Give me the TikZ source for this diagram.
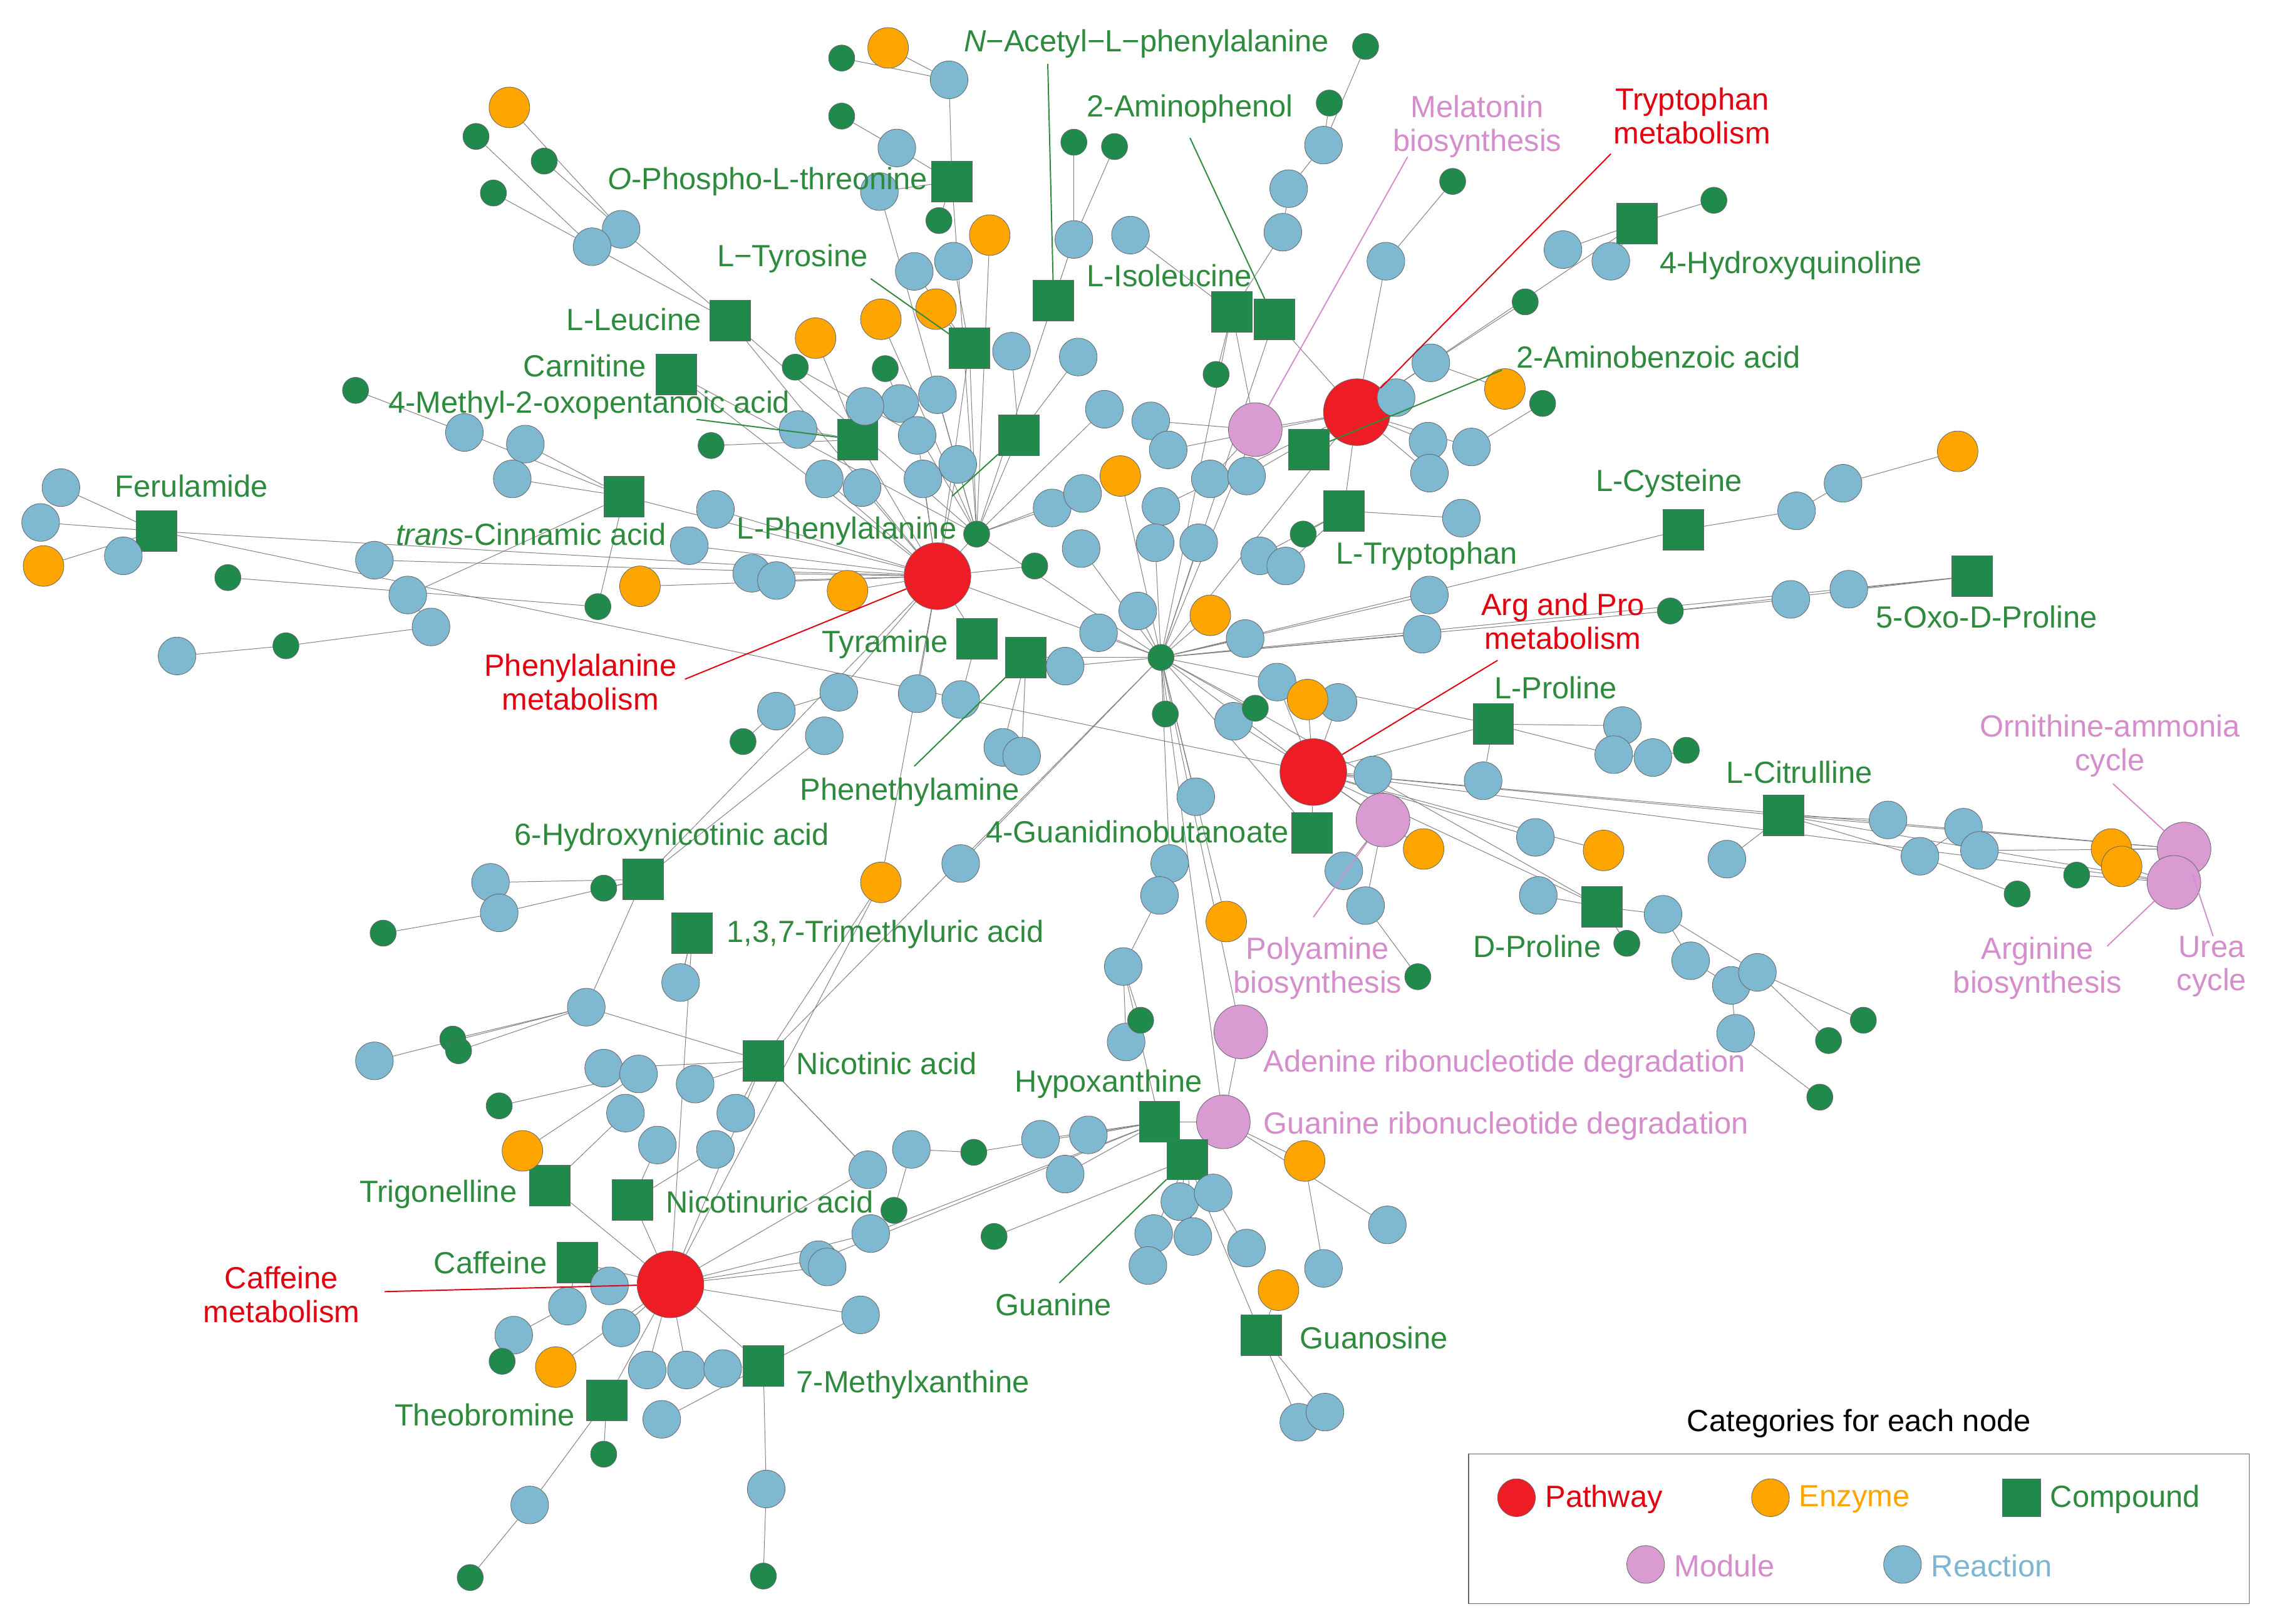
\documentclass[tikz,border=0pt]{standalone}
\usepackage{fontspec}
\setmainfont{Liberation Sans}
\usetikzlibrary{backgrounds}
\definecolor{cRed}{HTML}{EE1C25}
\definecolor{cOr}{HTML}{FFA500}
\definecolor{cGr}{HTML}{1F8A4C}
\definecolor{cPk}{HTML}{DA9BD2}
\definecolor{cBl}{HTML}{7FB8D1}
\definecolor{tGr}{HTML}{2E8B3E}
\definecolor{tPk}{HTML}{D68DCC}
\definecolor{tRd}{HTML}{E3000F}
\definecolor{tBl}{HTML}{7FB5D0}
\tikzset{
 base/.style={draw=black!60,line width=0.5pt,inner sep=0pt},
 rx/.style={base,circle,fill=cBl,minimum size=1.3cm},
 en/.style={base,circle,fill=cOr,minimum size=1.4cm},
 sg/.style={base,circle,fill=cGr,minimum size=0.9cm},
 cp/.style={base,rectangle,fill=cGr,minimum size=1.4cm},
 pw/.style={base,circle,fill=cRed,minimum size=2.3cm},
 md/.style={base,circle,fill=cPk,minimum size=1.85cm},
 edge/.style={draw=black!50,line width=0.6pt},
 lab/.style={font=\fontsize{30}{33}\selectfont,inner sep=1pt,align=center},
 gl/.style={lab,text=tGr},
 pl/.style={lab,text=tPk},
 rl/.style={lab,text=tRd},
 gline/.style={draw=tGr,line width=1.2pt},
 pline/.style={draw=tPk,line width=1.2pt},
 rline/.style={draw=tRd,line width=1.2pt},
}
\begin{document}
\begin{tikzpicture}[x=0.05cm,y=-0.05cm]
\useasboundingbox (0,0) rectangle (1567,1119);
% pathways / modules / hubs
\node[pw] (P1) at (646,397) {};
\node[pw] (P2) at (935,284) {};
\node[pw] (P3) at (905,532) {};
\node[pw] (P4) at (462,885) {};
\node[md] (M1) at (865,296) {};
\node[md] (M2) at (953,565) {};
\node[md] (M3) at (855,711) {};
\node[md] (M4) at (843,773) {};
\node[md] (M5) at (1505,585) {};
\node[md] (M6) at (1498,608) {};
\node[sg] (H1) at (673,368) {};
\node[sg] (H2) at (800,453) {};
% compounds
\node[cp] (CNAc) at (726,207) {};
\node[cp] (COPT) at (656,125) {};
\node[cp] (CTyr) at (668,240) {};
\node[cp] (CIle) at (849,215) {};
\node[cp] (C2AP) at (878,220) {};
\node[cp] (CLeu) at (503,221) {};
\node[cp] (CCar) at (466,258) {};
\node[cp] (CMOP) at (591,303) {};
\node[cp] (CLPhe) at (702,300) {};
\node[cp] (CFer) at (108,366) {};
\node[cp] (Ctcin) at (430,342) {};
\node[cp] (C2AB) at (902,310) {};
\node[cp] (CTrp) at (926,352) {};
\node[cp] (C4HQ) at (1128,154) {};
\node[cp] (CCys) at (1160,365) {};
\node[cp] (C5OP) at (1359,397) {};
\node[cp] (CTyra) at (673,440) {};
\node[cp] (CPhe) at (707,453) {};
\node[cp] (CLPro) at (1029,499) {};
\node[cp] (CCit) at (1229,562) {};
\node[cp] (CGB) at (904,574) {};
\node[cp] (CDPro) at (1104,625) {};
\node[cp] (C6HN) at (443,606) {};
\node[cp] (C137) at (477,643) {};
\node[cp] (CNic) at (526,731) {};
\node[cp] (CHyp) at (799,773) {};
\node[cp] (CGua) at (818,799) {};
\node[cp] (CTri) at (379,817) {};
\node[cp] (CNtu) at (436,827) {};
\node[cp] (CCaf) at (398,870) {};
\node[cp] (C7MX) at (526,941) {};
\node[cp] (CTheo) at (418,965) {};
\node[cp] (CGuo) at (869,920) {};

\def\Rlist{a4/428/158/CLeu,a5/408/170/CLeu,t4/654/55/COPT,t5/618/102/COPT,t6/606/132/H1,t9/657/180/CTyr,t10/630/187/CTyr,
t16/620/278/H1,t17/646/272/H1,t18/596/280/CMOP,t19/550/296/CMOP,t20/568/330/P1,t21/594/336/P1,t22/632/300/P1,t23/660/320/P1,t24/636/330/P1,
t25/697/242/CLPhe,t26/743/246/CLPhe,t27/761/282/H1,t28/740/165/CNAc,t29/779/162/CIle,
u3/912/100/u5,u5/888/130/u6,u6/884/160/CIle,u7/955/180/P2,u10/793/290/M1,u11/805/310/P2,u12/834/330/M1,u13/725/350/H1,u14/746/340/H1,
u16/800/349/P2,u17/859/328/P2,u18/868/383/CTrp,u19/886/390/CTrp,u20/745/378/H2,u21/796/374/H2,u22/826/374/H2,
u25/986/250/P2,u26/962/274/P2,u27/984/304/P2,u28/1014/308/P2,u29/985/326/P2,u30/1007/357/CTrp,u34/1077/172/C4HQ,u35/1110/180/C4HQ,
l1/493/351/P1,l2/475/376/P1,l3/518/395/P1,l4/535/400/P1,l8/578/477/P1,l9/535/490/l8,l11/568/507/C6HN,l12/632/478/P1,l13/662/482/CTyra,
l14/691/515/CPhe,l15/704/521/CPhe,l16/734/459/H2,l17/757/436/H2,l18/784/421/H2,l20/858/440/H2,l21/880/470/P3,l22/985/410/H2,l23/980/437/H2,
l25/1234/413/l24,l26/1274/406/C5OP,l27/1238/352/CCys,l28/1270/333/l27,
v3/922/484/P3,v4/850/497/P3,v6/946/534/P3,v7/1022/538/CLPro,v8/1058/577/P3,v10/1118/500/CLPro,v11/1112/520/CLPro,v12/1139/522/v11,
v14/1190/592/CCit,v15/1301/565/CCit,v16/1323/590/CCit,v17/1353/570/v16,v18/1364/586/M5,v24/1060/617/CDPro,v25/1146/630/CDPro,
v26/1165/662/v25,v27/1193/679/v26,v28/1211/670/v25,v29/1196/712/v27,v33/926/600/M2,v34/941/624/M2,
w1/824/549/H2,w2/806/595/H2,w3/799/617/w2,w5/774/666/w3,w6/776/718/w5,w9/662/595/H2,
x1/338/608/C6HN,x2/344/629/C6HN,x5/404/694/CNic,x6/469/677/C137,x7/258/731/x5,x11/416/736/CNic,x12/440/740/x16,x13/479/747/CNic,
x14/507/767/CNic,x15/431/767/CTri,x17/453/789/CNtu,x18/493/792/CNtu,x19/598/806/CNic,x20/628/792/x21,x22/600/850/P4,
x24/717/785/CHyp,x25/750/782/CHyp,x26/734/809/CHyp,x27/813/828/CGua,x28/836/822/CGua,x29/822/852/CGua,x30/859/860/x28,
x31/795/850/CGua,x32/791/872/x31,x34/912/874/x35,x37/956/844/M4,
y1/564/868/P4,y2/570/873/P4,y3/593/906/P4,y4/420/886/P4,y5/391/900/CCaf,y6/428/915/P4,y7/354/920/y5,y10/446/944/P4,
y11/473/944/P4,y12/498/943/C7MX,y13/456/978/C7MX,y15/365/1037/CTheo,y17/528/1026/C7MX,y19/895/980/CGuo,y20/913/973/CGuo,
z1/258/386/P1,z2/281/410/Ctcin,z3/297/432/z2,z6/122/452/z5,z7/85/383/CFer,z9/28/360/CFer,z10/42/336/CFer,
z11/320/298/Ctcin,z12/362/306/Ctcin,z13/353/330/Ctcin}
\def\Elist{a1/351/74/a4,t2/612/33/t4,t8/682/162/H1,t11/645/213/CTyr,t12/607/220/H1,t13/562/233/CMOP,u15/772/328/H2,u31/1037/268/u25,
l5/441/404/P1,l7/584/407/P1,l19/834/424/H2,l29/1349/311/l28,v2/901/482/P3,v9/1105/586/P3,v21/1455/585/M5,v22/1462/597/M6,
v23/981/585/P3,w4/845/635/H2,w8/607/608/P1,x16/360/793/CTri,x35/899/800/M4,x36/881/889/CGuo,y9/383/942/P4,z8/30/390/CFer}
\def\Glist{a2/328/94/a5,a3/375/111/a4,a6/340/133/a5,t1/580/40/t4,t3/580/80/t5,t7/647/152/COPT,t14/548/253/t22,t15/610/254/t16,
t30/740/98/t28,t31/768/101/t28,u1/941/32/u3,u2/916/71/u3,u8/1001/125/u7,u9/838/258/CIle,u23/713/390/P1,u24/898/368/CTrp,
u32/1063/278/u28,u33/1051/208/u25,u36/1181/138/C4HQ,l6/412/418/Ctcin,l10/512/511/l9,l24/1151/421/H2,v1/865/488/H2,v5/803/492/H2,
v13/1162/517/v12,v19/1390/616/v16,v20/1431/603/M6,v30/1260/717/v28,v31/1284/703/v28,v32/1254/756/v29,v35/977/673/v34,v36/1121/650/CDPro,
w7/786/703/w5,x3/416/612/C6HN,x4/264/643/x2,x8/312/716/x5,x9/316/724/x5,x10/344/762/x12,x21/671/794/CHyp,x23/616/834/x20,
x33/685/852/CGua,y8/346/938/y7,y14/416/1002/CTheo,y16/324/1087/y15,y18/526/1086/y17,z4/157/398/l6,z5/197/445/z3,z14/245/269/z11,z15/490/307/CMOP}

\foreach \n/\x/\y/\p in \Rlist {\node[rx] (\n) at (\x,\y) {};}
\foreach \n/\x/\y/\p in \Elist {\node[en] (\n) at (\x,\y) {};}
\foreach \n/\x/\y/\p in \Glist {\node[sg] (\n) at (\x,\y) {};}

\begin{pgfonlayer}{background}
\fill[white] (0,0) rectangle (1567,1119);
\foreach \n/\x/\y/\p in \Rlist {\draw[edge] (\n) -- (\p);}
\foreach \n/\x/\y/\p in \Elist {\draw[edge] (\n) -- (\p);}
\foreach \n/\x/\y/\p in \Glist {\draw[edge] (\n) -- (\p);}
\foreach \a/\b in {H1/P1,H1/H2,P1/H2,P2/H2,M1/P2,M1/H2,P3/H2,P3/M2,P3/CLPro,P3/CCit,P3/M5,P3/M6,M5/M6,CCit/M5,CCit/M6,
 M3/H2,M4/H2,M3/M4,M4/CHyp,H2/CGB,CLPhe/H1,CTyr/H1,CNAc/H1,CIle/H2,C2AP/P2,C2AB/P2,CTrp/P2,C4HQ/P2,CTyra/P1,CPhe/H2,
 CFer/P1,CFer/P3,CCys/H2,C5OP/H2,CDPro/P3,CGB/P3,C6HN/P1,C137/x6,CNic/P4,CNic/w8,CTri/P4,CNtu/P4,CCaf/P4,C7MX/P4,CTheo/P4,
 CHyp/y1,CGua/M4,CGuo/CGua,CHyp/w5,CLeu/P1,CCar/P1,CMOP/P1,Ctcin/P1,COPT/H1,C2AP/H2,CIle/M1,l24/C5OP,CLPro/H2,CDPro/H2,
 C6HN/x5,C137/P4,CNic/x19,x19/P4,CHyp/x22,CNic/H2,w8/P4,CFer/z7,x2/x1,CCaf/y4,C7MX/y3,CLeu/H1,CCar/H1,CTyr/P1,t6/COPT}
 {\draw[edge] (\a) -- (\b);}
\end{pgfonlayer}

% compound labels
\node[gl] (LNAc) at (790,30) {\textit{N}−Acetyl−L−phenylalanine};
\coordinate (LNAc1) at (722,44);
\draw[gline] (LNAc1) -- (CNAc);
\node[gl,anchor=east] at (640,125) {\textit{O}-Phospho-L-threonine};
\node[gl] (LTyr) at (546,178) {L−Tyrosine};
\coordinate (LTyr1) at (600,192);
\draw[gline] (LTyr1) -- (CTyr);
\node[gl,anchor=west] at (748,190) {L-Isoleucine};
\node[gl] (LAP) at (820,75) {2-Aminophenol};
\coordinate (LAP1) at (820,95);
\draw[gline] (LAP1) -- (C2AP);
\node[gl,anchor=east] at (484,220) {L-Leucine};
\node[gl,anchor=east] at (446,252) {Carnitine};
\node[gl] at (406,279) {4-Methyl-2-oxopentanoic acid};
\coordinate (LMOP1) at (480,289);
\draw[gline] (LMOP1) -- (CMOP);
\node[gl,anchor=east] at (660,366) {L-Phenylalanine};
\coordinate (LPhe1) at (656,342);
\draw[gline] (LPhe1) -- (CLPhe);
\node[gl] at (132,335) {Ferulamide};
\node[gl,anchor=east] at (460,368) {\textit{trans}-Cinnamic acid};
\node[gl,anchor=west] at (1044,246) {2-Aminobenzoic acid};
\coordinate (LAB1) at (1035,255);
\draw[gline] (LAB1) -- (C2AB);
\node[gl,anchor=west] at (920,383) {L-Tryptophan};
\node[gl,anchor=west] at (1143,183) {4-Hydroxyquinoline};
\node[gl] at (1150,333) {L-Cysteine};
\node[gl,anchor=west] at (1292,425) {5-Oxo-D-Proline};
\node[gl,anchor=east] at (654,444) {Tyramine};
\node[gl] at (627,546) {Phenethylamine};
\coordinate (LPea1) at (630,528);
\draw[gline] (LPea1) -- (CPhe);
\node[gl] at (1072,474) {L-Proline};
\node[gl] at (1240,532) {L-Citrulline};
\node[gl,anchor=east] at (889,573) {4-Guanidinobutanoate};
\node[gl,anchor=east] at (1104,652) {D-Proline};
\node[gl] at (463,577) {6-Hydroxynicotinic acid};
\node[gl,anchor=west] at (500,644) {1,3,7-Trimethyluric acid};
\node[gl,anchor=west] at (548,733) {Nicotinic acid};
\node[gl] at (764,747) {Hypoxanthine};
\node[gl] at (726,899) {Guanine};
\coordinate (LGua1) at (730,884);
\draw[gline] (LGua1) -- (CGua);
\node[gl,anchor=east] at (357,823) {Trigonelline};
\node[gl,anchor=west] at (458,828) {Nicotinuric acid};
\node[gl,anchor=east] at (378,870) {Caffeine};
\node[gl,anchor=west] at (548,954) {7-Methylxanthine};
\node[gl,anchor=east] at (397,975) {Theobromine};
\node[gl,anchor=west] at (895,922) {Guanosine};
% pathway labels
\node[rl] at (1166,80) {Tryptophan\\metabolism};
\coordinate (LTrp1) at (1110,106);
\draw[rline] (LTrp1) -- (P2);
\node[rl] at (400,470) {Phenylalanine\\metabolism};
\coordinate (LPhm1) at (472,468);
\draw[rline] (LPhm1) -- (P1);
\node[rl] at (1077,428) {Arg and Pro\\metabolism};
\coordinate (LAP2) at (1032,455);
\draw[rline] (LAP2) -- (P3);
\node[rl] at (194,892) {Caffeine\\metabolism};
\coordinate (LCf1) at (265,890);
\draw[rline] (LCf1) -- (P4);
% module labels
\node[pl] at (1018,87) {Melatonin\\biosynthesis};
\coordinate (LMel1) at (970,108);
\draw[pline] (LMel1) -- (M1);
\node[pl] at (908,667) {Polyamine\\biosynthesis};
\coordinate (LPol1) at (905,632);
\draw[pline] (LPol1) -- (M2);
\node[pl,anchor=west] at (870,733) {Adenine ribonucleotide degradation};
\node[pl,anchor=west] at (870,776) {Guanine ribonucleotide degradation};
\node[pl] at (1454,514) {Ornithine-ammonia\\cycle};
\coordinate (LOrn1) at (1456,540);
\draw[pline] (LOrn1) -- (M5);
\node[pl] at (1404,667) {Arginine\\biosynthesis};
\coordinate (LArg1) at (1452,652);
\draw[pline] (LArg1) -- (M6);
\node[pl] at (1524,666) {Urea\\cycle};
\coordinate (LUr1) at (1525,645);
\draw[pline] (LUr1) -- (M5);
% legend
\node[lab,text=black] at (1281,981) {Categories for each node};
\draw[draw=black!60,line width=0.8pt] (1012,1002) rectangle (1550,1105);
\node[pw,minimum size=1.3cm] (g1) at (1045,1032) {};
\node[lab,text=tRd,anchor=west] at (1064,1033) {Pathway};
\node[en,minimum size=1.3cm] (g2) at (1220,1032) {};
\node[lab,text=cOr,anchor=west] at (1239,1033) {Enzyme};
\node[cp,minimum size=1.3cm] (g3) at (1393,1032) {};
\node[lab,text=tGr,anchor=west] at (1412,1033) {Compound};
\node[md,minimum size=1.3cm] (g4) at (1134,1078) {};
\node[lab,text=tPk,anchor=west] at (1153,1079) {Module};
\node[rx] (g5) at (1311,1078) {};
\node[lab,text=tBl,anchor=west] at (1330,1079) {Reaction};
\end{tikzpicture}
\end{document}
